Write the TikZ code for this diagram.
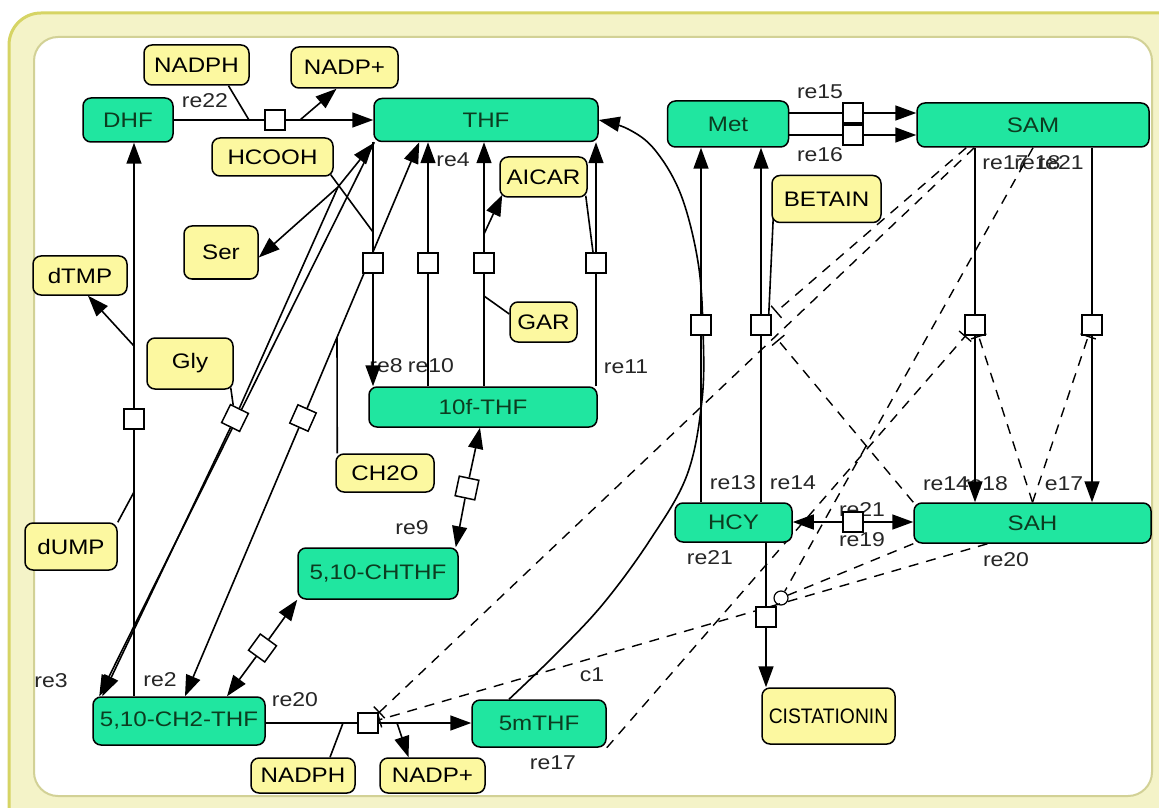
\documentclass[tikz,border=0pt]{standalone}
\usepackage{graphicx}
\usepackage{fontspec}
\setmainfont{Liberation Sans}[FakeStretch=1.15]
\usetikzlibrary{arrows.meta,calc}
\definecolor{mintg}{RGB}{32,230,160}
\definecolor{gtext}{RGB}{12,60,32}
\definecolor{ylw}{RGB}{252,248,160}
\definecolor{band}{RGB}{244,243,200}
\definecolor{bandline}{RGB}{214,212,100}
\definecolor{innerline}{RGB}{210,209,150}
\pgfdeclarelayer{bg}\pgfdeclarelayer{lines}
\pgfsetlayers{bg,lines,main}
\tikzset{
 box/.style={draw=black, line width=0.75pt, rounded corners=4pt, inner sep=0pt, font=\fontsize{10.5}{12}\selectfont},
 gnode/.style={box, fill=mintg, text=gtext},
 ynode/.style={box, fill=ylw, text=black},
 sq/.style={draw=black, line width=0.75pt, fill=white, minimum size=10pt, inner sep=0pt},
 lbl/.style={font=\fontsize{10}{12}\selectfont, inner sep=0pt, text=black!85},
 cn/.style={line width=0.8pt},
 arr/.style={cn, -{Triangle[length=10.5pt,width=7.5pt]}},
 dsh/.style={line width=0.7pt, dash pattern=on 5pt off 4pt},
 inh/.style={dsh, -{Bar[width=8pt]}},
}
\begin{document}
\begin{tikzpicture}[x=0.5pt,y=-0.5pt]
\useasboundingbox (0,0) rectangle (1159,807);
\begin{pgfonlayer}{bg}
\clip (0,0) rectangle (1159,807);
\fill[white] (0,0) rectangle (1159,807);
\draw[fill=band, draw=bandline, line width=1.5pt, rounded corners=16pt] (9,13) rectangle (1200,840);
\draw[fill=white, draw=innerline, line width=1pt, rounded corners=12pt] (34,37) rectangle (1152,796);
\end{pgfonlayer}

% species (green)
\node[gnode, minimum width=45pt, minimum height=22pt] (DHF) at (128,120) {DHF};
\node[gnode, minimum width=112pt, minimum height=21.5pt] (THF) at (486,120) {THF};
\node[gnode, minimum width=60.5pt, minimum height=23pt] (Met) at (728,124) {Met};
\node[gnode, minimum width=116pt, minimum height=22pt] (SAM) at (1033,125) {SAM};
\node[gnode, minimum width=114pt, minimum height=20pt] (10f) at (483,407) {10f-THF};
\node[gnode, minimum width=80pt, minimum height=25.5pt] (CHTHF) at (378,573.5) {5,10-CHTHF};
\node[gnode, minimum width=86pt, minimum height=24pt] (CH2) at (179,721) {5,10-CH2-THF};
\node[gnode, minimum width=67pt, minimum height=23.5pt] (m5) at (539,723.5) {5mTHF};
\node[gnode, minimum width=58.5pt, minimum height=19.5pt] (HCY) at (733.5,522.5) {HCY};
\node[gnode, minimum width=118.5pt, minimum height=20pt] (SAH) at (1032.5,523) {SAH};

% species (yellow)
\node[ynode, minimum width=52.5pt, minimum height=20pt] (NADPH1) at (196.5,65) {NADPH};
\node[ynode, minimum width=53.5pt, minimum height=20.5pt] (NADPP1) at (344.5,67.5) {NADP+};
\node[ynode, minimum width=60.5pt, minimum height=19pt] (HCOOH) at (272.5,157) {HCOOH};
\node[ynode, minimum width=37pt, minimum height=26.5pt] (Ser) at (221,252.5) {Ser};
\node[ynode, minimum width=47pt, minimum height=19.5pt] (dTMP) at (80,275.5) {dTMP};
\node[ynode, minimum width=43pt, minimum height=25.5pt] (Gly) at (190,363.5) {Gly};
\node[ynode, minimum width=46pt, minimum height=23.5pt] (dUMP) at (71,546.5) {dUMP};
\node[ynode, minimum width=49pt, minimum height=19pt] (CH2O) at (385,473) {CH2O};
\node[ynode, minimum width=43.5pt, minimum height=20pt] (AICAR) at (543.5,177) {AICAR};
\node[ynode, minimum width=33.5pt, minimum height=20pt] (GAR) at (543.5,322) {GAR};
\node[ynode, minimum width=54.5pt, minimum height=23.5pt] (BETAIN) at (826.5,199) {BETAIN};
\node[ynode, minimum width=66.5pt, minimum height=28pt] (CISTAT) at (828.5,716) {\scalebox{0.8}[1]{CISTATIONIN}};
\node[ynode, minimum width=52pt, minimum height=17.5pt] (NADPH2) at (303,775.5) {NADPH};
\node[ynode, minimum width=52.5pt, minimum height=17.5pt] (NADPP2) at (432.5,775.5) {NADP+};

% reaction squares
\node[sq] (s22) at (275,120) {};
\node[sq] (s8) at (373,263) {};
\node[sq] (s10) at (428,263) {};
\node[sq] (s4) at (484,263) {};
\node[sq] (s11) at (596,263) {};
\node[sq, rotate=-26] (s3) at (235,418) {};
\node[sq, rotate=-24] (s2) at (303,418) {};
\node[sq] (sT) at (134,419) {};
\node[sq, rotate=-12] (s9) at (467,488) {};
\node[sq, rotate=-36] (sC) at (262.5,648) {};
\node[sq] (s20) at (368,723) {};
\node[sq] (s13) at (701,325) {};
\node[sq] (s14) at (761,325) {};
\node[sq] (s15) at (853,113) {};
\node[sq] (s16) at (853,135) {};
\node[sq] (s18) at (975,325) {};
\node[sq] (s17) at (1092,325) {};
\node[sq] (s21) at (853,522) {};
\node[sq] (sCBS) at (766,617) {};
\node[circle, draw=black, line width=0.6pt, minimum size=7pt, inner sep=0pt] (cbsc) at (781,598) {};

\begin{pgfonlayer}{lines}
% labels
\node[lbl] (l22) at (205,101) {re22};
\node[lbl] (l4) at (453,160) {re4};
\node[lbl] (l8) at (386,366) {re8};
\node[lbl] (l10) at (431,366) {re10};
\node[lbl] (l11) at (626,367) {re11};
\node[lbl] (l9) at (412,528) {re9};
\node[lbl] (l3) at (51,681) {re3};
\node[lbl] (l2) at (160,680) {re2};
\node[lbl] (l20a) at (295,700) {re20};
\node[lbl] (lc1) at (592,675) {c1};
\node[lbl] (l17a) at (553,763) {re17};
\node[lbl] (l21a) at (710,558) {re21};
\node[lbl] (l13) at (733,483) {re13};
\node[lbl] (l14) at (793,483) {re14};
\node[lbl] (l21b) at (862,510) {re21};
\node[lbl] (l19) at (862,540) {re19};
\node[lbl] (l20b) at (1006,560) {re20};
\node[lbl] (l14b) at (946,484) {re14};
\node[lbl] (l18b) at (985,484) {re18};
\node[lbl] (l17b) at (1064,484) {e17};
\node[lbl] (l15) at (820,92) {re15};
\node[lbl] (l16) at (820,155) {re16};
\node[lbl, anchor=west] (l17c) at (982,163) {re17};
\node[lbl, anchor=west] (l18c) at (1014,163) {re18};
\node[lbl, anchor=east] (l21c) at (1084,163) {re21};

% re22
\draw[cn] (DHF.east) -- (s22);
\draw[arr] (s22) -- (THF.west);
\coordinate (j22a) at (249,120);
\coordinate (j22b) at (300,120);
\draw[cn] ($(NADPH1.south)+(32,0)$) -- (j22a);
\draw[arr] (j22b) -- ($(NADPP1.south)+(-8,0)$);

% re8
\draw[cn] (s8 |- THF.south) -- (s8);
\draw[arr] (s8) -- (s8 |- 10f.north);
\coordinate (j8) at (373,232);
\draw[cn] ($(HCOOH.south east)+(-3,-2)$) -- (j8);

% SHMT
\coordinate (P) at (338,187);
\draw[arr] (P) -- ($(THF.south west)+(0,1)$);
\draw[arr] (P) -- ($(Ser.east)+(0,5)$);
\draw[cn] (P) -- (s3);
\draw[arr] (s3) -- ($(CH2.north west)+(10,0)$);
\draw[arr] ($(THF.south west)+(1,0)$) -- ($(CH2.north west)+(7,0)$);
\draw[cn] ($(Gly.south east)+(-3,-2)$) -- (s3);

\draw[arr] (s2) -- ($(CH2.north)+(6,0)$);
\draw[arr] (s2) -- ($(THF.south west)+(46,0)$);
\coordinate (jH) at (337,338);
\draw[cn] ($(CH2O.north west)+(2,0)$) -- (jH);

% re10, re4, re11
\draw[arr] (s10) -- (s10 |- THF.south);
\draw[cn] (s10 |- 10f.north) -- (s10);
\draw[arr] (s4) -- (s4 |- THF.south);
\draw[cn] (s4 |- 10f.north) -- (s4);
\coordinate (jA) at (484,234);
\draw[arr] (jA) -- ($(AICAR.south west)+(3,-3)$);
\coordinate (jG) at (484,296);
\draw[cn] ($(GAR.west)+(0,-8)$) -- (jG);
\draw[arr] (s11) -- (s11 |- THF.south);
\draw[cn] (s11 |- 10f.north) -- (s11);
\draw[cn] ($(AICAR.south east)+(-2,-2)$) -- ($(s11.north)+(-3,0)$);

% re9
\draw[arr] (s9) -- ($(10f.south)+(-3,0)$);
\draw[arr] (s9) -- ($(CHTHF.north east)+(-3,0)$);

% CH2 <-> CHTHF
\draw[arr] (sC) -- ($(CH2.north)+(48,0)$);
\draw[arr] (sC) -- (CHTHF.south west);

% re20
\draw[cn] (CH2.east |- s20) -- (s20);
\draw[arr] (s20) -- (m5.west |- s20);
\coordinate (j20a) at (343,723);
\coordinate (j20b) at (397,723);
\draw[cn] ($(NADPH2.north)+(27,0)$) -- (j20a);
\draw[arr] (j20b) -- ($(NADPP2.north)+(-24,0)$);

% thymidylate
\draw[cn] (sT |- CH2.north) -- (sT);
\draw[arr] (sT) -- (sT |- DHF.south);
\coordinate (jU) at (134,492);
\draw[cn] (dUMP.north east) -- (jU);
\coordinate (jT) at (134,346);
\draw[arr] (jT) -- ($(dTMP.south)+(8,0)$);

% Met -> SAM
\draw[cn] (Met.east |- s15) -- (s15);
\draw[arr] (s15) -- (SAM.west |- s15);
\draw[cn] (Met.east |- s16) -- (s16);
\draw[arr] (s16) -- (SAM.west |- s16);

% HCY -> Met
\draw[cn] (s13 |- HCY.north) -- (s13);
\draw[arr] (s13) -- (s13 |- Met.south);
\draw[cn] (s14 |- HCY.north) -- (s14);
\draw[arr] (s14) -- (s14 |- Met.south);
\draw[cn] ($(BETAIN.south west)+(2,-6)$) -- ($(s14.north east)+(-3,0)$);

% SAM -> SAH
\draw[cn] (s18 |- SAM.south) -- (s18);
\draw[arr] (s18) -- (s18 |- SAH.north);
\draw[cn] (s17 |- SAM.south) -- (s17);
\draw[arr] (s17) -- (s17 |- SAH.north);

% SAH <-> HCY
\draw[arr] (s21) -- (HCY.east |- s21);
\draw[arr] (s21) -- (SAH.west |- s21);

% CBS
\draw[cn] (sCBS |- HCY.south) -- (sCBS);
\draw[arr] (sCBS) -- (sCBS |- CISTAT.north);

% c1
\coordinate (c1s) at ($(m5.north)+(-30,0)$);
\draw[arr] plot[smooth, tension=0.6] coordinates {(c1s) (555,655) (603,604) (650,540) (687,475) (702,400) (703,330) (698,262) (681,195) (655,150) (628,129) (THF.east)};

% modifiers (dashed)
\draw[inh] ($(SAM.south west)+(50,0)$) -- ($(s14.north east)+(4,-2)$);
\draw[inh] ($(SAM.south west)+(58,0)$) -- (s20);
\draw[inh] (SAH.north west) -- ($(s14.south east)+(6,4)$);
\draw[dsh] (SAM.south) -- (cbsc);
\draw[inh] ($(SAH.south)+(-45,0)$) -- (s20);
\draw[inh] (m5.south east) -- (s18);
\draw[dsh] (SAH.south west) -- (cbsc);
\draw[inh] (SAH.north) -- (s18);
\draw[inh] (SAH.north) -- (s17);
\end{pgfonlayer}
\end{tikzpicture}
\end{document}
